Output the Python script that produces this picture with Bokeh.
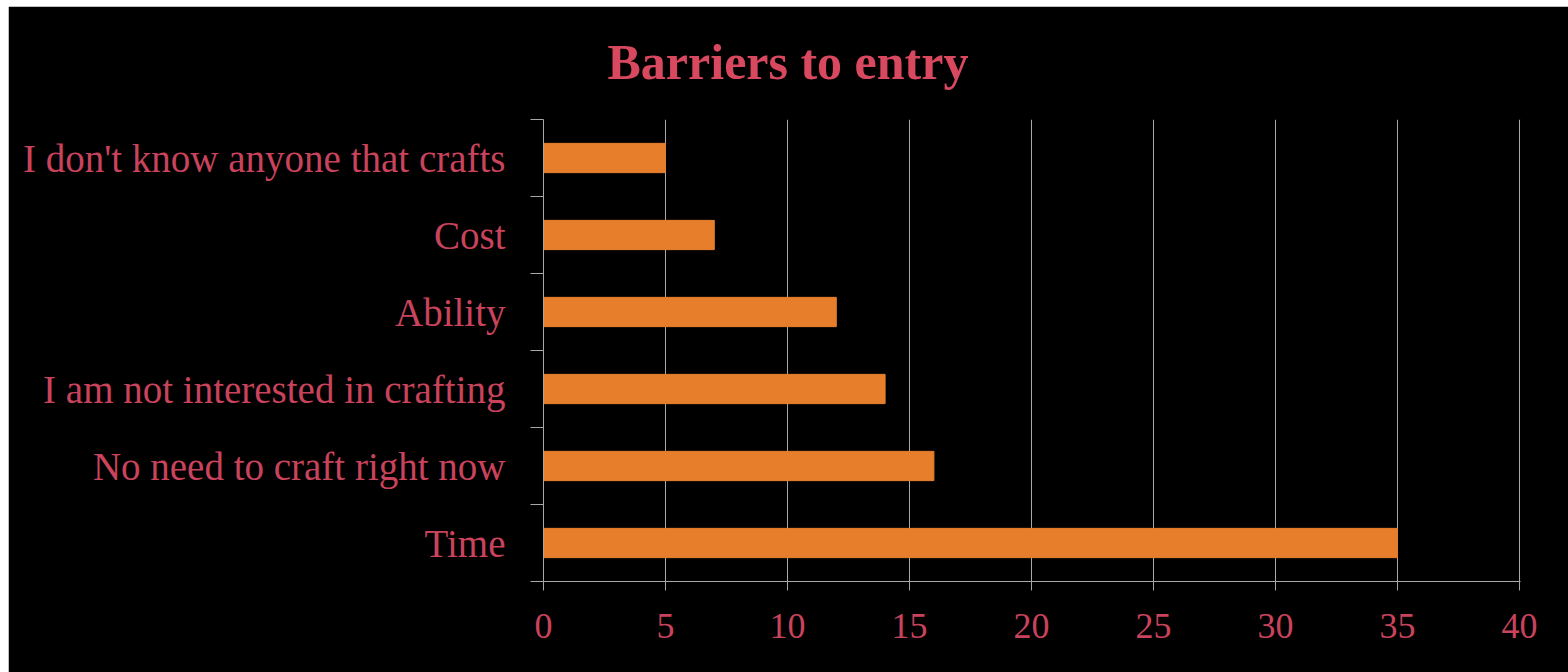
from bokeh.plotting import figure
from bokeh.models import Range1d, FixedTicker, ColumnDataSource
from bokeh.embed import file_html
from bokeh.resources import INLINE

title_text = "Barriers to entry"
categories = ["Time", "No need to craft right now", "I am not interested in crafting",
              "Ability", "Cost", "I don't know anyone that crafts"]
values = [35, 16, 14, 12, 7, 5]
x_ticks = [0, 5, 10, 15, 20, 25, 30, 35, 40]

TEXT = "#c9435c"
TITLE = "#d8485f"
BAR = "#e67e2c"
GRID = "#a8a8a8"
FONT = "Liberation Serif"

centers = [i + 0.5 for i in range(len(categories))]
src = ColumnDataSource(dict(y=centers, v=values))

p = figure(width=1560, height=666, output_backend="svg", toolbar_location=None,
           x_range=Range1d(0, 40.041), y_range=Range1d(0, len(categories)),
           title=title_text)
p.styles = {"margin-left": "8px", "margin-top": "6px"}
p.background_fill_color = "black"
p.border_fill_color = "black"
p.outline_line_color = "black"
p.min_border_left = 535
p.min_border_right = 48
p.min_border_top = 112
p.min_border_bottom = 91

p.title.align = "left"
p.title.offset = 64
p.title.vertical_align = "top"
p.title.text_font = FONT
p.title.text_font_size = "50px"
p.title.text_font_style = "bold"
p.title.text_color = TITLE
p.title.standoff = 55

p.hbar(y="y", right="v", left=0, height=0.38, source=src, color=BAR)

p.ygrid.visible = False
p.xgrid.grid_line_color = GRID
p.xgrid.grid_line_width = 1
p.xgrid.ticker = FixedTicker(ticks=x_ticks)

xa = p.xaxis[0]
xa.ticker = FixedTicker(ticks=x_ticks)
xa.axis_line_color = GRID
xa.major_tick_line_color = GRID
xa.major_tick_out = 9
xa.major_tick_in = 0
xa.minor_tick_line_color = None
xa.major_label_text_font = FONT
xa.major_label_text_font_size = "36px"
xa.major_label_text_color = TEXT
xa.major_label_standoff = 23

ya = p.yaxis[0]
ya.ticker = FixedTicker(ticks=centers, minor_ticks=list(range(len(categories) + 1)))
ya.major_label_overrides = {c: lab for c, lab in zip(centers, categories)}
ya.axis_line_color = GRID
ya.major_tick_line_color = None
ya.major_tick_out = 0
ya.major_tick_in = 0
ya.minor_tick_line_color = GRID
ya.minor_tick_out = 13
ya.minor_tick_in = 0
ya.major_label_text_font = FONT
ya.major_label_text_font_size = "39px"
ya.major_label_text_color = TEXT
ya.major_label_standoff = 25

open("out.html", "w").write(file_html(p, INLINE))
